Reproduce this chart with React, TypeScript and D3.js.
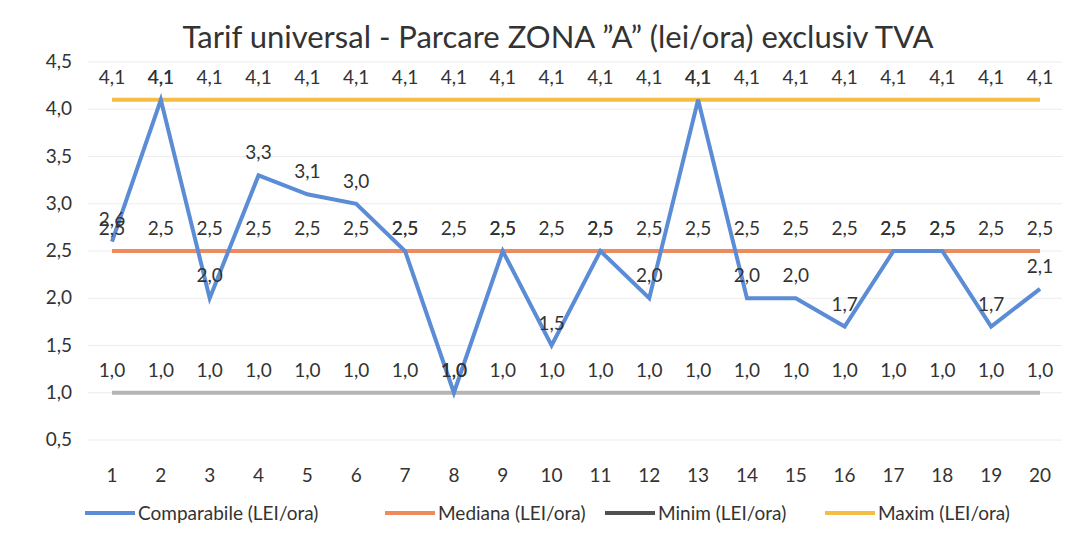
import React from "react";
import * as d3 from "d3";

const categories = ["1","2","3","4","5","6","7","8","9","10","11","12","13","14","15","16","17","18","19","20"];
const comparabile = [2.6, 4.1, 2.0, 3.3, 3.1, 3.0, 2.5, 1.0, 2.5, 1.5, 2.5, 2.0, 4.1, 2.0, 2.0, 1.7, 2.5, 2.5, 1.7, 2.1];
const mediana = [2.5,2.5,2.5,2.5,2.5,2.5,2.5,2.5,2.5,2.5,2.5,2.5,2.5,2.5,2.5,2.5,2.5,2.5,2.5,2.5];
const minim = [1.0,1.0,1.0,1.0,1.0,1.0,1.0,1.0,1.0,1.0,1.0,1.0,1.0,1.0,1.0,1.0,1.0,1.0,1.0,1.0];
const maxim = [4.1,4.1,4.1,4.1,4.1,4.1,4.1,4.1,4.1,4.1,4.1,4.1,4.1,4.1,4.1,4.1,4.1,4.1,4.1,4.1];
const yTicks = [0.5, 1.0, 1.5, 2.0, 2.5, 3.0, 3.5, 4.0, 4.5];
const title = "Tarif universal - Parcare ZONA ”A” (lei/ora) exclusiv TVA";

const W = 1078, H = 535;
const font = "Lato, 'Open Sans', sans-serif";
const fmt = (v: number) => v.toFixed(1).replace(".", ",");

export default function App() {
  const x = d3.scalePoint<string>().domain(categories).range([112, 1040]);
  const y = d3.scaleLinear().domain([0.5, 4.5]).range([440, 62]);
  const line = d3.line<number>().x((_, i) => x(categories[i])!).y(d => y(d));

  const series = [
    { name: "Mediana (LEI/ora)", data: mediana, color: "#EE8A5C", legend: "#EE8A5C" },
    { name: "Minim (LEI/ora)", data: minim, color: "#B4B4B4", legend: "#505050" },
    { name: "Maxim (LEI/ora)", data: maxim, color: "#F4BE45", legend: "#F4BE45" },
    { name: "Comparabile (LEI/ora)", data: comparabile, color: "#5B8CD6", legend: "#5B8CD6" },
  ];
  const legendOrder = [series[3], series[0], series[1], series[2]];
  const legendX = [85, 385, 605, 825];

  return (
    <svg width={W} height={H} style={{ position: "absolute", left: 0, top: 0, background: "#fff" }}>
      <rect x={0} y={0} width={W} height={H} fill="#fff" />
      <text x={558} y={48} textAnchor="middle" fontFamily={font} fontSize={31} fill="#333">{title}</text>
      {yTicks.map(t => (
        <g key={t}>
          <line x1={88} x2={1062} y1={y(t)} y2={y(t)} stroke="#ececec" strokeWidth={1} />
          <text x={72} y={y(t) + 6} textAnchor="end" fontFamily={font} fontSize={19} fill="#333">{fmt(t)}</text>
        </g>
      ))}
      {categories.map(c => (
        <text key={c} x={x(c)} y={482} textAnchor="middle" fontFamily={font} fontSize={19} fill="#333">{c}</text>
      ))}
      {series.map(s => (
        <path key={s.name} d={line(s.data)!} fill="none" stroke={s.color} strokeWidth={4} strokeLinejoin="miter" />
      ))}
      {series.map(s => (
        <g key={s.name + "l"}>
          {s.data.map((v, i) => (
            <text key={i} x={x(categories[i])} y={y(v) - 16} textAnchor="middle" fontFamily={font} fontSize={19} fill="#333">{fmt(v)}</text>
          ))}
        </g>
      ))}
      {legendOrder.map((s, i) => (
        <g key={s.name + "lg"}>
          <line x1={legendX[i]} x2={legendX[i] + 50} y1={513} y2={513} stroke={s.legend} strokeWidth={4} />
          <text x={legendX[i] + 53} y={520} fontFamily={font} fontSize={19} fill="#333">{s.name}</text>
        </g>
      ))}
    </svg>
  );
}
